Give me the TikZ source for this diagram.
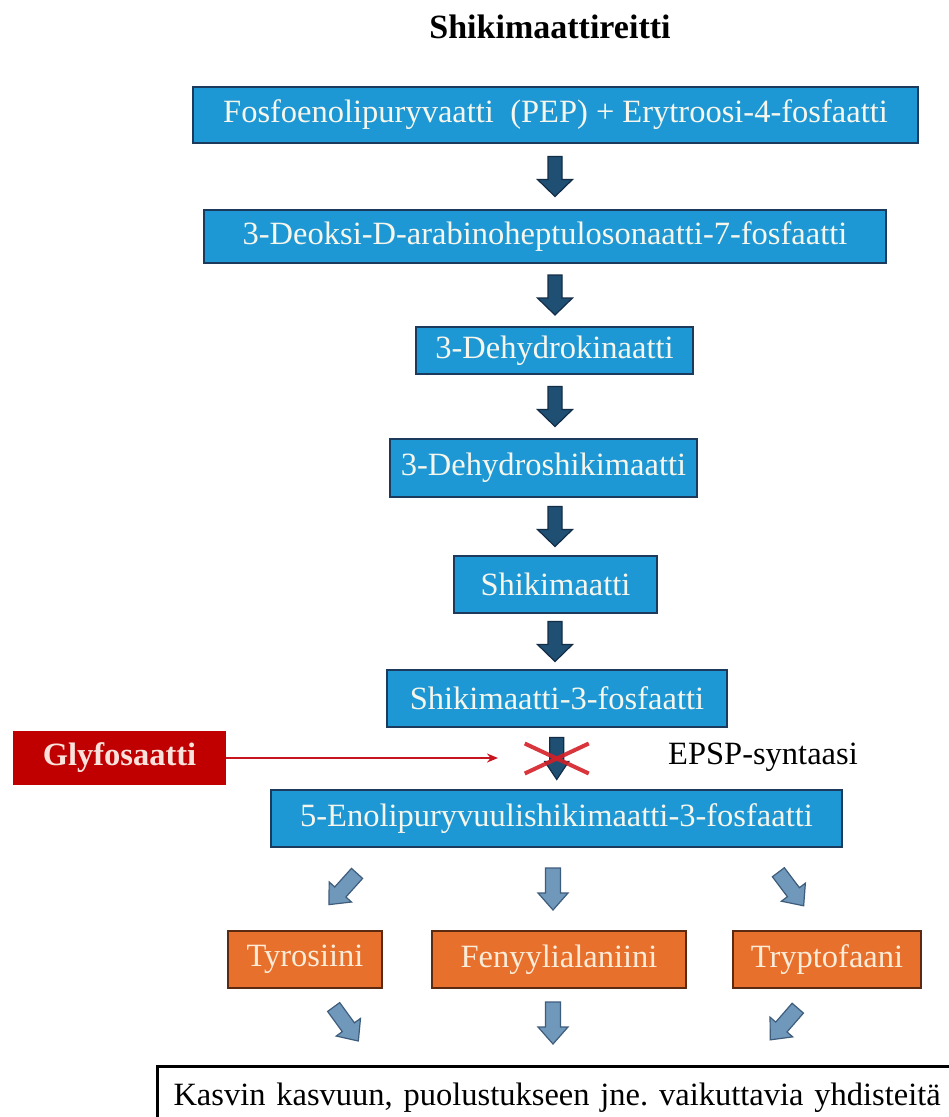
\documentclass[tikz,border=0pt]{standalone}
\usepackage{fontspec}
\setmainfont{Liberation Serif}
\usetikzlibrary{calc,arrows.meta}
\definecolor{boxblue}{RGB}{30,152,212}
\definecolor{boxblueline}{RGB}{28,58,92}
\definecolor{boxtext}{RGB}{246,246,236}
\definecolor{darkarrowfill}{RGB}{31,80,116}
\definecolor{darkarrowline}{RGB}{20,45,70}
\definecolor{lightarrowfill}{RGB}{112,152,186}
\definecolor{lightarrowline}{RGB}{62,92,124}
\definecolor{orangefill}{RGB}{232,112,45}
\definecolor{orangeline}{RGB}{92,42,16}
\definecolor{orangetext}{RGB}{250,236,216}
\definecolor{glyfred}{RGB}{192,0,0}
\definecolor{glyftext}{RGB}{250,226,220}
\definecolor{linered}{RGB}{200,20,30}
\definecolor{crossred}{RGB}{212,32,40}
\frenchspacing
\begin{document}
\begin{tikzpicture}[x=1pt,y=-1pt,
  bluebox/.style={draw=boxblueline, fill=boxblue, line width=2pt, text=boxtext,
    inner sep=0pt, font=\fontsize{32.5}{38}\selectfont},
  orangebox/.style={draw=orangeline, fill=orangefill, line width=2.6pt, text=orangetext,
    inner sep=0pt, minimum height=57pt, font=\fontsize{32.5}{38}\selectfont},
  darkarrowstyle/.style={draw=darkarrowline, fill=darkarrowfill, line width=1.2pt, line join=miter},
  lightarrowstyle/.style={draw=lightarrowline, fill=lightarrowfill, line width=1.2pt, line join=miter},
  pics/darkarrow/.style={code={\draw[darkarrowstyle] (-20,-7) -- (3,-7) -- (3,-17.5) -- (20,0) -- (3,17.5) -- (3,7) -- (-20,7) -- cycle;}},
  pics/smalldarkarrow/.style={code={\draw[darkarrowstyle] (-21,-7) -- (3,-7) -- (3,-12) -- (21,0) -- (3,12) -- (3,7) -- (-21,7) -- cycle;}},
  pics/lightarrow/.style={code={\draw[lightarrowstyle] (-21,-7.5) -- (4,-7.5) -- (4,-15) -- (21,0) -- (4,15) -- (4,7.5) -- (-21,7.5) -- cycle;}},
  redline/.style={draw=linered, line width=2pt},
  crossline/.style={draw=crossred, line width=4pt, opacity=0.9}
]
\useasboundingbox (0,0) rectangle (949,1117);
\clip (0,0) rectangle (949,1117);
\fill[white] (0,0) rectangle (949,1117);

% title
\node[font=\fontsize{34}{40}\selectfont\bfseries] (title) at (550,27) {Shikimaattireitti};

% main chain
\node[bluebox, minimum width=725pt, minimum height=56pt] (b1) at (555.5,115) {Fosfoenolipuryvaatti\ \ (PEP) + Erytroosi-4-fosfaatti};
\node[bluebox, minimum width=682pt, minimum height=53pt] (b2) at (545,236.5) {3-Deoksi-D-arabinoheptulosonaatti-7-fosfaatti};
\node[bluebox, minimum width=277pt, minimum height=47pt] (b3) at (554.5,350.5) {3-Dehydrokinaatti};
\node[bluebox, minimum width=307pt, minimum height=58pt] (b4) at (543.5,468) {3-Dehydroshikimaatti};
\node[bluebox, minimum width=203pt, minimum height=57pt] (b5) at (555.5,584.5) {Shikimaatti};
\node[bluebox, minimum width=340pt, minimum height=57pt] (b6) at (557,698.5) {Shikimaatti-3-fosfaatti};
\node[bluebox, minimum width=571pt, minimum height=57pt] (b7) at (556.5,818.5) {5-Enolipuryvuulishikimaatti-3-fosfaatti};

% dark block arrows between the boxes
\coordinate (a1) at ($(b1.south)!0.5!(b2.north)$);
\coordinate (a2) at ($(b2.south)!0.5!(b3.north)$);
\coordinate (a3) at ($(b3.south)!0.5!(b4.north)$);
\coordinate (a4) at ($(b4.south)!0.5!(b5.north)$);
\coordinate (a5) at ($(b5.south)!0.5!(b6.north)$);
\coordinate (a6) at ($(b6.south)!0.5!(b7.north)$);
\pic[rotate=270] at (a1 -| 555,0) {darkarrow};
\pic[rotate=270] at (a2 -| 555,0) {darkarrow};
\pic[rotate=270] at (a3 -| 555,0) {darkarrow};
\pic[rotate=270] at (a4 -| 555,0) {darkarrow};
\pic[rotate=270] at (a5 -| 555,0) {darkarrow};
\pic[rotate=270] at (a6) {smalldarkarrow};

% inhibition
\draw[crossline] ($(a6)+(-32,-15)$) -- ($(a6)+(32,15)$);
\draw[crossline] ($(a6)+(-32,15)$) -- ($(a6)+(32,-15)$);

\node[fill=glyfred, text=glyftext, inner sep=0pt, minimum width=213pt, minimum height=54pt,
  font=\fontsize{32.5}{38}\selectfont\bfseries] (glyf) at (119.5,758) {Glyfosaatti};
\coordinate (gtip) at (498,758);
\draw[redline, -{Stealth[length=11pt,width=9pt]}] (glyf.east) -- (gtip);

\node[anchor=west, inner sep=0pt, font=\fontsize{32.5}{38}\selectfont] (epsp) at (668,757) {EPSP-syntaasi};

% amino acids
\node[orangebox, minimum width=154pt] (o1) at (305,959.5) {Tyrosiini};
\node[orangebox, minimum width=254pt] (o2) at (559,959.5) {Fenyylialaniini};
\node[orangebox, minimum width=188pt] (o3) at (827,959.5) {Tryptofaani};

% light arrows
\coordinate (l1) at (343,889);
\coordinate (l2) at (553,889);
\coordinate (l3) at (791,889);
\coordinate (l4) at (346,1024);
\coordinate (l5) at (553,1023);
\coordinate (l6) at (784,1024);
\pic[rotate=228] at (l1) {lightarrow};
\pic[rotate=270] at (l2) {lightarrow};
\pic[rotate=307] at (l3) {lightarrow};
\pic[rotate=306] at (l4) {lightarrow};
\pic[rotate=270] at (l5) {lightarrow};
\pic[rotate=229] at (l6) {lightarrow};

% final box
\node[draw=black, line width=3pt, fill=white, anchor=north west, inner sep=0pt,
  minimum width=820pt, minimum height=62pt, text width=820pt, align=left,
  font=\fontsize{32.5}{38}\selectfont] (final) at (156,1065)
  {\hspace*{16pt}Kasvin kasvuun, puolustukseen jne. vaikuttavia yhdisteitä};
\end{tikzpicture}
\end{document}
